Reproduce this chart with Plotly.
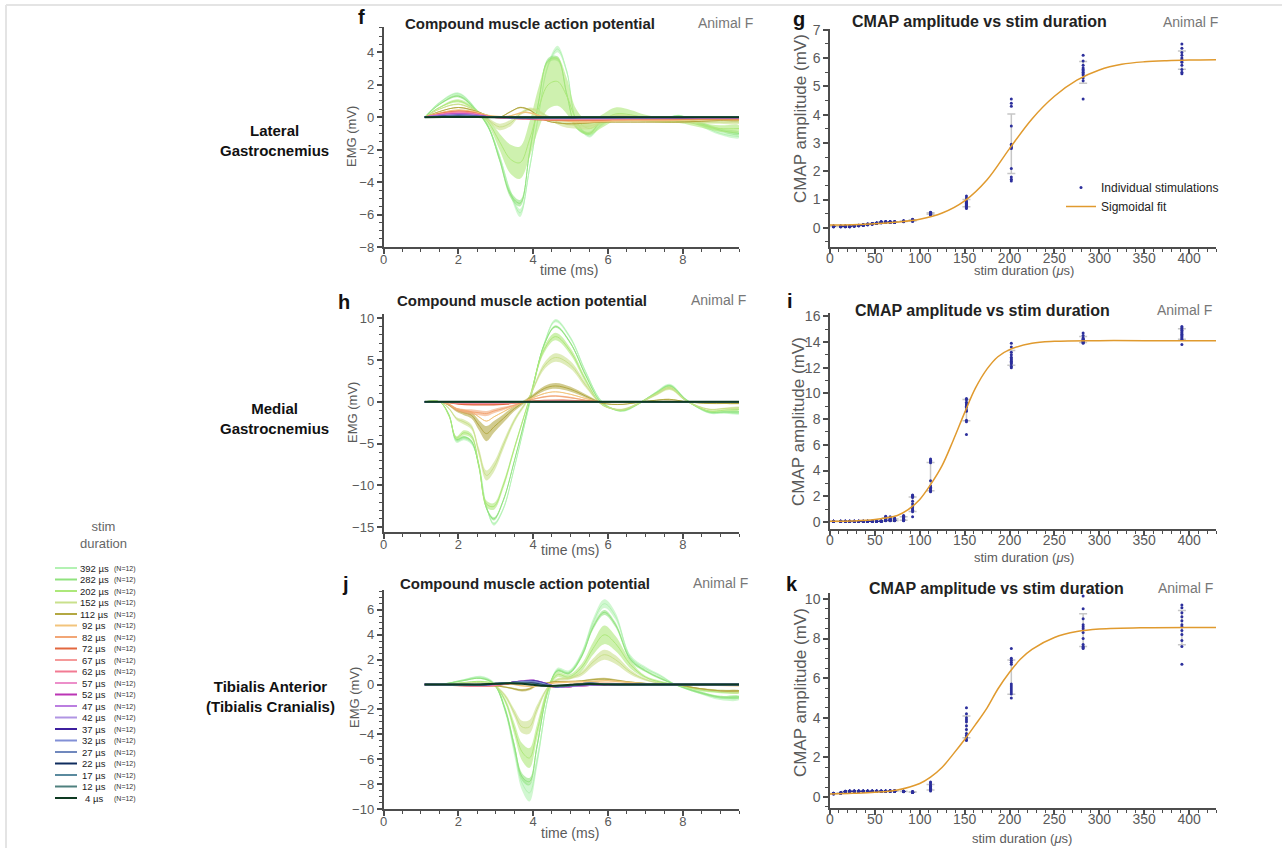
import numpy as np
import plotly.graph_objects as go

FONT = "Liberation Sans, Arial, Helvetica, sans-serif"
W, H = 1282, 848

# ---------------- data ----------------
DURATIONS = [392, 282, 202, 152, 112, 92, 82, 72, 67, 62, 57, 52, 47, 42, 37, 32, 27, 22, 17, 12, 4]
N_STIM = [12] * 21
COLORS = ['#b3f2b3', '#90e27e', '#ade87a', '#c9e08c', '#b3a842', '#f2c47c', '#f2a676',
          '#e2673f', '#f59a9a', '#f27a93', '#ec8fca', '#bb35b5', '#bb7ee0', '#b095e3',
          '#3d1f9e', '#8290d6', '#7088bd', '#0f2c5e', '#5a8a9e', '#4f807e', '#0e3a22']

# Lateral gastrocnemius EMG (mean, sd) for recruited durations
LG_T = [1.1, 1.5, 2.0, 2.5, 2.8, 3.1, 3.4, 3.65, 3.9, 4.15, 4.4, 4.65, 4.9, 5.15, 5.5, 5.8, 6.2, 6.6, 7.0, 7.5, 7.9, 8.5, 9.0, 9.5]
LG_MEAN = {
    392: [0, 0.9, 1.45, 0.4, -0.6, -2.4, -4.7, -5.9, -3.2, 0.2, 3.2, 4.2, 2.8, -0.2, -1.15, -0.5, 0.0, -0.1, -0.2, -0.1, 0.1, -0.5, -1.0, -1.2],
    282: [0, 0.8, 1.3, 0.35, -0.6, -2.6, -4.8, -5.3, -2.2, 1.0, 3.5, 3.6, 1.4, -0.6, -1.0, -0.3, 0.0, -0.1, -0.2, -0.1, 0.05, -0.4, -0.8, -1.0],
    202: [0, 0.6, 1.0, 0.35, -0.3, -1.5, -2.6, -2.8, -1.4, 0.6, 2.0, 2.2, 1.3, -0.1, -0.7, -0.3, 0.2, 0.15, -0.05, -0.2, -0.2, -0.5, -0.7, -0.7],
    152: [0, 0.5, 0.8, 0.35, -0.15, -0.6, -0.35, 0.2, 0.5, 0.35, 0.0, -0.3, -0.45, -0.5, -0.55, -0.3, 0.05, 0.05, -0.1, -0.2, -0.25, -0.3, -0.3, -0.3],
    112: [0, 0.35, 0.6, 0.35, 0.1, 0.0, 0.35, 0.6, 0.45, 0.05, -0.25, -0.35, -0.4, -0.4, -0.35, -0.3, -0.3, -0.3, -0.3, -0.3, -0.3, -0.25, -0.2, -0.2],
}
LG_SD = {
    392: [0, 0.05, 0.08, 0.08, 0.1, 0.15, 0.2, 0.25, 0.2, 0.15, 0.15, 0.2, 0.15, 0.1, 0.1, 0.1, 0.1, 0.05, 0.05, 0.05, 0.05, 0.1, 0.1, 0.1],
    282: [0, 0.05, 0.08, 0.08, 0.1, 0.15, 0.2, 0.2, 0.2, 0.15, 0.15, 0.15, 0.15, 0.1, 0.1, 0.1, 0.05, 0.05, 0.05, 0.05, 0.05, 0.1, 0.1, 0.1],
    202: [0, 0.05, 0.1, 0.1, 0.2, 0.5, 0.9, 1.0, 1.1, 1.3, 1.5, 1.5, 1.1, 0.6, 0.4, 0.4, 0.4, 0.3, 0.2, 0.15, 0.15, 0.15, 0.2, 0.2],
    152: [0, 0.03, 0.05, 0.05, 0.1, 0.2, 0.2, 0.1, 0.1, 0.1, 0.1, 0.15, 0.2, 0.2, 0.2, 0.15, 0.15, 0.1, 0.1, 0.1, 0.1, 0.1, 0.1, 0.1],
    112: [0, 0.02, 0.03, 0.03, 0.03, 0.03, 0.04, 0.05, 0.05, 0.04, 0.03, 0.03, 0.03, 0.03, 0.03, 0.03, 0.03, 0.03, 0.03, 0.03, 0.03, 0.03, 0.03, 0.03],
}
LG_T_SMALL = [1.1, 1.6, 2.0, 2.4, 2.8, 3.3, 3.8, 4.3, 4.8, 5.3, 5.8, 6.5, 7.5, 8.5, 9.5]
LG_SMALL = {
    92: [0, 0.3, 0.45, 0.35, 0.1, 0.05, 0.3, 0.0, -0.2, -0.3, -0.25, -0.2, -0.2, -0.15, -0.15],
    82: [0, 0.28, 0.4, 0.3, 0.05, -0.05, 0.0, -0.15, -0.2, -0.2, -0.2, -0.15, -0.15, -0.1, -0.1],
    72: [0, 0.25, 0.35, 0.27, 0.05, -0.05, -0.1, -0.15, -0.15, -0.15, -0.15, -0.1, -0.1, -0.1, -0.1],
    67: [0, 0.22, 0.32, 0.24, 0.05, -0.05, -0.1, -0.12, -0.12, -0.12, -0.12, -0.1, -0.08, -0.06, -0.05],
    62: [0, 0.2, 0.3, 0.22, 0.04, -0.04, -0.1, -0.1, -0.1, -0.1, -0.1, -0.08, -0.06, -0.05, -0.05],
    57: [0, 0.17, 0.25, 0.18, 0.03, -0.03, -0.08, -0.08, -0.08, -0.08, -0.08, -0.06, -0.05, -0.04, -0.04],
    52: [0, 0.15, 0.22, 0.16, 0.03, -0.03, -0.07, -0.07, -0.07, -0.07, -0.06, -0.05, -0.04, -0.03, -0.03],
    47: [0, 0.12, 0.18, 0.13, 0.02, -0.02, -0.06, -0.06, -0.06, -0.05, -0.05, -0.04, -0.03, -0.02, -0.02],
    42: [0, 0.1, 0.15, 0.11, 0.02, -0.02, -0.05, -0.05, -0.05, -0.04, -0.04, -0.03, -0.02, -0.02, -0.02],
    37: [0, 0.08, 0.12, 0.09, 0.02, -0.01, -0.04, -0.04, -0.04, -0.03, -0.03, -0.02, -0.02, -0.01, -0.01],
    32: [0, 0.06, 0.1, 0.07, 0.01, -0.01, -0.03, -0.03, -0.03, -0.02, -0.02, -0.02, -0.01, -0.01, -0.01],
    27: [0, 0.05, 0.08, 0.06, 0.01, -0.01, -0.02, -0.02, -0.02, -0.02, -0.02, -0.01, -0.01, -0.01, -0.01],
    22: [0, 0.04, 0.06, 0.04, 0.01, 0, -0.02, -0.02, -0.02, -0.01, -0.01, -0.01, 0, 0, 0],
    17: [0, 0.03, 0.05, 0.03, 0.01, 0, -0.01, -0.01, -0.01, -0.01, -0.01, 0, 0, 0, 0],
    12: [0, 0.02, 0.03, 0.02, 0, 0, -0.01, -0.01, -0.01, 0, 0, 0, 0, 0, 0],
    4: [0, 0.01, 0.02, 0.01, 0, 0, 0, 0, 0, 0, 0, 0, 0, 0, 0],
}

# Medial gastrocnemius EMG
MG_T = [1.1, 1.5, 1.75, 1.95, 2.15, 2.35, 2.55, 2.75, 2.95, 3.2, 3.5, 3.9, 4.3, 4.6, 5.0, 5.4, 5.8, 6.1, 6.4, 6.9, 7.3, 7.65, 8.1, 8.7, 9.1, 9.5]
MG_MEAN = {
    392: [0, 0, -1.5, -4.7, -4.4, -4.9, -7.5, -12.5, -14.6, -12.8, -7.8, -0.3, 7.0, 9.7, 7.6, 3.6, 0.2, -0.8, -1.1, 0.0, 1.2, 2.0, 0.2, -1.3, -1.3, -1.4],
    282: [0, 0, -1.6, -4.5, -4.2, -4.7, -7.8, -12.7, -14.0, -11.8, -7.0, 0.0, 6.9, 9.0, 7.0, 3.2, 0.0, -0.8, -1.0, 0.0, 1.1, 1.9, 0.2, -1.2, -1.2, -1.2],
    202: [0, 0, -1.7, -4.3, -3.7, -4.1, -7.6, -12.2, -12.5, -10.0, -5.5, 0.4, 6.3, 7.8, 6.0, 2.6, -0.2, -0.8, -1.0, 0.0, 1.0, 1.7, 0.1, -1.1, -1.0, -0.9],
    152: [0, 0, -0.8, -2.0, -2.4, -3.0, -6.0, -8.8, -7.8, -5.2, -2.2, 0.6, 4.3, 5.3, 4.4, 2.0, -0.2, -0.8, -0.9, 0.0, 0.9, 1.6, 0.1, -0.9, -0.8, -0.7],
    112: [0, 0, -0.4, -1.0, -1.3, -1.6, -2.8, -3.8, -3.0, -2.0, -0.8, 0.4, 1.6, 1.9, 1.5, 0.7, -0.1, -0.3, -0.3, 0.0, 0.2, 0.3, 0.0, -0.2, -0.2, -0.2],
    92: [0, 0, -0.3, -0.8, -1.0, -1.2, -1.8, -2.3, -1.8, -1.2, -0.5, 0.3, 1.0, 1.2, 0.9, 0.4, 0.0, -0.1, -0.1, 0.0, 0.05, 0.1, 0.0, -0.05, -0.05, -0.05],
    82: [0, 0, -0.3, -0.9, -1.1, -1.2, -1.3, -1.4, -1.1, -0.8, -0.4, 0.2, 0.6, 0.7, 0.5, 0.2, 0, 0, 0, 0, 0, 0, 0, 0, 0, 0],
}
MG_SD = {
    392: [0, 0, 0.1, 0.2, 0.2, 0.2, 0.2, 0.2, 0.2, 0.2, 0.2, 0.2, 0.2, 0.2, 0.2, 0.2, 0.1, 0.1, 0.1, 0.1, 0.1, 0.15, 0.1, 0.1, 0.1, 0.1],
    282: [0, 0, 0.1, 0.15, 0.15, 0.15, 0.15, 0.2, 0.2, 0.2, 0.15, 0.15, 0.15, 0.15, 0.15, 0.15, 0.1, 0.1, 0.1, 0.1, 0.1, 0.1, 0.1, 0.1, 0.1, 0.1],
    202: [0, 0, 0.1, 0.2, 0.3, 0.3, 0.3, 0.4, 0.4, 0.4, 0.3, 0.2, 0.4, 0.45, 0.4, 0.3, 0.1, 0.1, 0.1, 0.1, 0.15, 0.2, 0.1, 0.1, 0.1, 0.1],
    152: [0, 0, 0.1, 0.2, 0.3, 0.3, 0.5, 0.6, 0.6, 0.5, 0.3, 0.2, 0.4, 0.5, 0.45, 0.3, 0.1, 0.1, 0.1, 0.1, 0.15, 0.2, 0.1, 0.1, 0.1, 0.1],
    112: [0, 0, 0.1, 0.2, 0.3, 0.4, 0.6, 0.9, 0.7, 0.5, 0.3, 0.2, 0.3, 0.35, 0.3, 0.2, 0.1, 0.05, 0.05, 0.05, 0.05, 0.05, 0.05, 0.05, 0.05, 0.05],
    92: [0, 0, 0.05, 0.05, 0.05, 0.05, 0.05, 0.05, 0.05, 0.05, 0.05, 0.05, 0.05, 0.05, 0.05, 0.05, 0.03, 0.03, 0.03, 0.03, 0.03, 0.03, 0.03, 0.03, 0.03, 0.03],
    82: [0, 0, 0.1, 0.2, 0.25, 0.3, 0.3, 0.3, 0.25, 0.2, 0.1, 0.05, 0.1, 0.1, 0.1, 0.05, 0, 0, 0, 0, 0, 0, 0, 0, 0, 0],
}
MG_T_SMALL = [1.1, 1.6, 2.0, 2.4, 2.8, 3.3, 3.8, 4.3, 4.8, 5.3, 5.8, 6.5, 7.5, 8.5, 9.5]
MG_SMALL = {
    72: [0, 0, -0.25, -0.35, -0.35, -0.25, 0.0, 0.15, 0.2, 0.1, 0, 0, 0, 0, 0],
    67: [0, 0, -0.15, -0.2, -0.2, -0.15, 0, 0.1, 0.1, 0.05, 0, 0, 0, 0, 0],
    62: [0, 0, -0.1, -0.12, -0.12, -0.1, 0, 0.05, 0.06, 0.03, 0, 0, 0, 0, 0],
    57: [0, 0, -0.06, -0.08, -0.08, -0.06, 0, 0.03, 0.04, 0.02, 0, 0, 0, 0, 0],
    52: [0, 0, -0.04, -0.05, -0.05, -0.04, 0, 0.02, 0.02, 0.01, 0, 0, 0, 0, 0],
    47: [0, 0, -0.03, -0.04, -0.04, -0.03, 0, 0.01, 0.01, 0.01, 0, 0, 0, 0, 0],
    42: [0, 0, -0.02, -0.03, -0.03, -0.02, 0, 0.01, 0.01, 0, 0, 0, 0, 0, 0],
    37: [0, 0, -0.02, -0.02, -0.02, -0.02, 0, 0, 0, 0, 0, 0, 0, 0, 0],
    32: [0, 0, -0.01, -0.02, -0.02, -0.01, 0, 0, 0, 0, 0, 0, 0, 0, 0],
    27: [0, 0, -0.01, -0.01, -0.01, -0.01, 0, 0, 0, 0, 0, 0, 0, 0, 0],
    22: [0, 0, 0, -0.01, -0.01, 0, 0, 0, 0, 0, 0, 0, 0, 0, 0],
    17: [0, 0, 0, 0, 0, 0, 0, 0, 0, 0, 0, 0, 0, 0, 0],
    12: [0, 0, 0, 0, 0, 0, 0, 0, 0, 0, 0, 0, 0, 0, 0],
    4: [0, 0, 0, 0, 0, 0, 0, 0, 0, 0, 0, 0, 0, 0, 0],
}

# Tibialis anterior EMG
TA_T = [1.1, 1.6, 2.1, 2.6, 2.95, 3.25, 3.5, 3.7, 3.9, 4.1, 4.4, 4.65, 4.95, 5.3, 5.6, 5.9, 6.2, 6.6, 7.0, 7.4, 7.8, 8.4, 9.0, 9.5]
TA_MEAN = {
    392: [0, 0.05, 0.35, 0.6, 0.1, -2.0, -5.3, -7.9, -8.7, -6.2, -1.0, 1.2, 1.0, 2.5, 5.0, 6.5, 5.5, 2.2, 1.3, 0.7, 0.0, -0.6, -1.1, -1.1],
    282: [0, 0.05, 0.3, 0.5, 0.05, -2.0, -5.0, -7.4, -7.8, -5.0, -0.4, 1.1, 0.9, 2.3, 4.6, 5.8, 4.8, 2.0, 1.1, 0.5, 0.0, -0.6, -1.0, -1.0],
    202: [0, 0.02, 0.15, 0.25, 0.0, -1.3, -3.6, -5.4, -5.9, -3.8, -0.4, 0.8, 0.6, 1.4, 2.9, 4.0, 3.3, 1.6, 0.6, 0.2, 0.0, -0.4, -0.6, -0.6],
    152: [0, 0.02, 0.1, 0.15, -0.05, -0.9, -2.3, -3.4, -3.4, -2.0, -0.2, 0.4, 0.5, 0.9, 1.8, 2.4, 2.0, 1.0, 0.4, 0.1, 0.0, -0.3, -0.5, -0.6],
    112: [0, 0, -0.05, -0.05, -0.1, -0.2, -0.35, -0.45, -0.35, -0.05, 0.15, 0.25, 0.25, 0.3, 0.4, 0.45, 0.35, 0.2, 0.1, 0.0, 0.0, -0.3, -0.5, -0.5],
}
TA_SD = {
    392: [0, 0.02, 0.05, 0.1, 0.1, 0.3, 0.5, 0.6, 0.7, 0.5, 0.2, 0.15, 0.15, 0.2, 0.3, 0.35, 0.3, 0.2, 0.15, 0.1, 0.05, 0.1, 0.15, 0.15],
    282: [0, 0.02, 0.05, 0.05, 0.1, 0.2, 0.3, 0.3, 0.3, 0.3, 0.2, 0.1, 0.1, 0.15, 0.2, 0.2, 0.2, 0.15, 0.1, 0.1, 0.05, 0.1, 0.1, 0.1],
    202: [0, 0, 0.02, 0.05, 0.1, 0.2, 0.5, 0.7, 0.8, 0.6, 0.3, 0.2, 0.2, 0.3, 0.5, 0.75, 0.6, 0.3, 0.1, 0.1, 0.05, 0.1, 0.1, 0.1],
    152: [0, 0, 0.02, 0.03, 0.05, 0.15, 0.3, 0.5, 0.55, 0.35, 0.1, 0.1, 0.1, 0.2, 0.3, 0.4, 0.35, 0.2, 0.1, 0.05, 0.05, 0.05, 0.1, 0.1],
    112: [0, 0, 0, 0.02, 0.02, 0.05, 0.08, 0.1, 0.1, 0.08, 0.05, 0.05, 0.05, 0.05, 0.08, 0.1, 0.08, 0.05, 0.03, 0.03, 0.03, 0.05, 0.05, 0.05],
}
TA_T_SMALL = [1.1, 1.6, 2.1, 2.6, 3.0, 3.4, 3.7, 4.0, 4.3, 4.6, 5.0, 5.5, 6.0, 7.0, 8.0, 9.5]
TA_SMALL = {
    92: [0, -0.02, -0.05, -0.08, -0.05, 0.05, -0.1, -0.15, 0.0, 0.15, 0.2, 0.25, 0.3, 0.05, 0, -0.1],
    82: [0, -0.03, -0.06, -0.1, -0.05, 0.08, 0.1, 0.1, -0.05, -0.1, 0.0, 0.1, 0.1, 0, 0, 0],
    72: [0, -0.03, -0.08, -0.12, -0.08, 0.1, 0.15, 0.2, -0.1, -0.2, -0.15, 0.0, 0.05, 0, 0, 0],
    67: [0, -0.03, -0.08, -0.12, -0.05, 0.12, 0.2, 0.25, -0.05, -0.2, -0.15, -0.05, 0, 0, 0, 0],
    62: [0, -0.02, -0.07, -0.1, -0.03, 0.15, 0.22, 0.3, 0.0, -0.2, -0.15, -0.05, 0, 0, 0, 0],
    57: [0, -0.02, -0.06, -0.08, 0.0, 0.15, 0.25, 0.32, 0.05, -0.2, -0.15, -0.05, 0, 0, 0, 0],
    52: [0, -0.01, -0.05, -0.06, 0.02, 0.15, 0.28, 0.35, 0.1, -0.2, -0.15, -0.05, 0, 0, 0, 0],
    47: [0, -0.01, -0.04, -0.05, 0.03, 0.15, 0.28, 0.35, 0.12, -0.18, -0.15, -0.05, 0, 0, 0, 0],
    42: [0, -0.01, -0.03, -0.04, 0.04, 0.15, 0.27, 0.33, 0.12, -0.16, -0.12, -0.03, 0, 0, 0, 0],
    37: [0, 0, -0.02, -0.03, 0.05, 0.15, 0.25, 0.3, 0.1, -0.15, -0.1, 0.0, 0, 0, 0, 0],
    32: [0, 0, -0.02, -0.02, 0.06, 0.15, 0.22, 0.25, 0.05, -0.15, -0.08, 0.05, 0.02, 0, 0, 0],
    27: [0, 0, -0.01, -0.01, 0.07, 0.15, 0.2, 0.2, 0.0, -0.15, -0.05, 0.08, 0.03, 0, 0, 0],
    22: [0, 0, 0, 0, 0.08, 0.15, 0.15, 0.1, -0.05, -0.15, -0.05, 0.1, 0.03, 0, 0, 0],
    17: [0, 0, 0, 0.01, 0.08, 0.14, 0.12, 0.05, -0.08, -0.15, -0.05, 0.1, 0.03, 0, 0, 0],
    12: [0, 0, 0, 0.01, 0.08, 0.13, 0.1, 0.0, -0.1, -0.12, -0.03, 0.08, 0.02, 0, 0, 0],
    4: [0, 0, 0, 0.01, 0.06, 0.1, 0.06, -0.02, -0.1, -0.1, -0.02, 0.05, 0.01, 0, 0, 0],
}

# CMAP amplitudes (mV), 12 stimulations per duration
LG_CMAP = {
    4: [0.04, 0.05, 0.05, 0.06, 0.05, 0.04, 0.05, 0.06, 0.05, 0.05, 0.04, 0.06],
    12: [0.05, 0.04, 0.06, 0.05, 0.05, 0.06, 0.04, 0.05, 0.05, 0.06, 0.05, 0.04],
    17: [0.05, 0.06, 0.05, 0.04, 0.05, 0.05, 0.06, 0.05, 0.04, 0.05, 0.06, 0.05],
    22: [0.04, 0.05, 0.06, 0.05, 0.05, 0.04, 0.06, 0.05, 0.05, 0.06, 0.04, 0.05],
    27: [0.06, 0.07, 0.08, 0.07, 0.06, 0.07, 0.08, 0.07, 0.06, 0.07, 0.08, 0.07],
    32: [0.07, 0.08, 0.09, 0.08, 0.07, 0.08, 0.09, 0.08, 0.07, 0.08, 0.09, 0.08],
    37: [0.09, 0.1, 0.11, 0.1, 0.09, 0.1, 0.11, 0.1, 0.09, 0.1, 0.11, 0.1],
    42: [0.11, 0.12, 0.13, 0.12, 0.11, 0.12, 0.13, 0.12, 0.11, 0.12, 0.13, 0.12],
    47: [0.13, 0.14, 0.15, 0.14, 0.13, 0.14, 0.15, 0.14, 0.13, 0.14, 0.15, 0.14],
    52: [0.15, 0.16, 0.17, 0.16, 0.15, 0.16, 0.17, 0.16, 0.15, 0.16, 0.17, 0.16],
    57: [0.18, 0.19, 0.2, 0.21, 0.19, 0.18, 0.2, 0.19, 0.21, 0.2, 0.19, 0.18],
    62: [0.19, 0.2, 0.21, 0.2, 0.19, 0.2, 0.21, 0.2, 0.19, 0.2, 0.21, 0.2],
    67: [0.19, 0.2, 0.21, 0.2, 0.19, 0.2, 0.21, 0.2, 0.19, 0.2, 0.21, 0.2],
    72: [0.19, 0.2, 0.21, 0.2, 0.19, 0.2, 0.21, 0.2, 0.19, 0.2, 0.21, 0.2],
    82: [0.21, 0.22, 0.23, 0.24, 0.22, 0.23, 0.24, 0.23, 0.22, 0.23, 0.24, 0.25],
    92: [0.23, 0.24, 0.25, 0.26, 0.27, 0.28, 0.24, 0.26, 0.27, 0.29, 0.3, 0.25],
    112: [0.45, 0.47, 0.48, 0.49, 0.5, 0.5, 0.51, 0.52, 0.53, 0.54, 0.55, 0.5],
    152: [0.68, 0.72, 0.75, 0.8, 0.82, 0.85, 0.87, 0.9, 0.92, 0.95, 1.05, 1.12],
    202: [1.65, 1.72, 1.8, 2.1, 2.8, 2.85, 2.9, 2.95, 3.6, 4.3, 4.4, 4.55],
    282: [4.55, 5.2, 5.3, 5.4, 5.45, 5.5, 5.55, 5.6, 5.65, 5.75, 5.9, 6.1],
    392: [5.45, 5.5, 5.6, 5.75, 5.85, 5.9, 5.95, 6.0, 6.1, 6.2, 6.35, 6.5],
}
MG_CMAP = {
    4: [0.04, 0.05, 0.05, 0.06, 0.05, 0.04, 0.05, 0.06, 0.05, 0.05, 0.04, 0.06],
    12: [0.05, 0.04, 0.06, 0.05, 0.05, 0.06, 0.04, 0.05, 0.05, 0.06, 0.05, 0.04],
    17: [0.05, 0.06, 0.05, 0.04, 0.05, 0.05, 0.06, 0.05, 0.04, 0.05, 0.06, 0.05],
    22: [0.04, 0.05, 0.06, 0.05, 0.05, 0.04, 0.06, 0.05, 0.05, 0.06, 0.04, 0.05],
    27: [0.05, 0.05, 0.06, 0.04, 0.05, 0.06, 0.05, 0.05, 0.04, 0.06, 0.05, 0.05],
    32: [0.05, 0.06, 0.05, 0.05, 0.04, 0.06, 0.05, 0.05, 0.06, 0.04, 0.05, 0.05],
    37: [0.04, 0.05, 0.06, 0.05, 0.05, 0.04, 0.06, 0.05, 0.05, 0.06, 0.04, 0.05],
    42: [0.05, 0.05, 0.06, 0.04, 0.05, 0.06, 0.05, 0.05, 0.04, 0.06, 0.05, 0.05],
    47: [0.05, 0.06, 0.05, 0.05, 0.04, 0.06, 0.05, 0.05, 0.06, 0.04, 0.05, 0.05],
    52: [0.05, 0.06, 0.06, 0.05, 0.05, 0.06, 0.05, 0.06, 0.05, 0.05, 0.06, 0.05],
    57: [0.05, 0.06, 0.07, 0.08, 0.06, 0.05, 0.07, 0.06, 0.08, 0.05, 0.06, 0.07],
    62: [0.1, 0.12, 0.14, 0.15, 0.18, 0.2, 0.12, 0.15, 0.3, 0.4, 0.45, 0.13],
    67: [0.1, 0.12, 0.13, 0.15, 0.17, 0.2, 0.14, 0.16, 0.25, 0.35, 0.4, 0.12],
    72: [0.1, 0.11, 0.12, 0.13, 0.15, 0.17, 0.12, 0.14, 0.2, 0.25, 0.3, 0.11],
    82: [0.1, 0.12, 0.15, 0.18, 0.2, 0.25, 0.3, 0.35, 0.4, 0.45, 0.5, 0.15],
    92: [0.4, 0.8, 0.9, 1.0, 1.1, 1.2, 1.4, 1.6, 1.9, 2.0, 2.05, 2.1],
    112: [2.35, 2.4, 2.5, 2.6, 2.7, 2.8, 3.2, 4.6, 4.7, 4.75, 4.8, 4.9],
    152: [6.8, 7.8, 7.9, 8.6, 8.7, 8.9, 9.0, 9.1, 9.2, 9.3, 9.5, 9.6],
    202: [12.0, 12.1, 12.3, 12.4, 12.5, 12.6, 12.7, 12.8, 13.0, 13.2, 13.6, 13.9],
    282: [13.9, 13.95, 14.0, 14.05, 14.1, 14.1, 14.15, 14.2, 14.25, 14.3, 14.5, 14.7],
    392: [13.8, 14.2, 14.3, 14.4, 14.5, 14.6, 14.7, 14.8, 14.9, 15.0, 15.1, 15.2],
}
TA_CMAP = {
    4: [0.15, 0.16, 0.17, 0.18, 0.17, 0.16, 0.17, 0.18, 0.17, 0.16, 0.17, 0.18],
    12: [0.18, 0.19, 0.2, 0.21, 0.2, 0.19, 0.2, 0.21, 0.2, 0.19, 0.2, 0.21],
    17: [0.25, 0.26, 0.27, 0.28, 0.27, 0.26, 0.27, 0.28, 0.27, 0.26, 0.27, 0.28],
    22: [0.27, 0.28, 0.29, 0.3, 0.29, 0.28, 0.29, 0.3, 0.29, 0.28, 0.29, 0.3],
    27: [0.27, 0.28, 0.29, 0.3, 0.28, 0.29, 0.3, 0.29, 0.28, 0.29, 0.3, 0.28],
    32: [0.28, 0.29, 0.3, 0.29, 0.28, 0.29, 0.3, 0.29, 0.28, 0.29, 0.3, 0.29],
    37: [0.27, 0.28, 0.29, 0.3, 0.29, 0.28, 0.29, 0.3, 0.29, 0.28, 0.29, 0.3],
    42: [0.27, 0.28, 0.29, 0.3, 0.28, 0.29, 0.3, 0.29, 0.28, 0.29, 0.3, 0.28],
    47: [0.28, 0.29, 0.3, 0.29, 0.28, 0.29, 0.3, 0.29, 0.28, 0.29, 0.3, 0.29],
    52: [0.27, 0.28, 0.29, 0.3, 0.29, 0.28, 0.29, 0.3, 0.29, 0.28, 0.29, 0.3],
    57: [0.27, 0.28, 0.29, 0.3, 0.28, 0.29, 0.3, 0.29, 0.28, 0.29, 0.3, 0.28],
    62: [0.28, 0.29, 0.3, 0.29, 0.28, 0.29, 0.3, 0.29, 0.28, 0.29, 0.3, 0.29],
    67: [0.28, 0.29, 0.3, 0.31, 0.29, 0.3, 0.31, 0.3, 0.29, 0.3, 0.31, 0.3],
    72: [0.28, 0.29, 0.3, 0.31, 0.29, 0.3, 0.31, 0.3, 0.29, 0.3, 0.31, 0.3],
    82: [0.26, 0.27, 0.28, 0.29, 0.28, 0.27, 0.28, 0.29, 0.28, 0.27, 0.28, 0.29],
    92: [0.23, 0.24, 0.25, 0.26, 0.25, 0.24, 0.25, 0.26, 0.25, 0.24, 0.25, 0.26],
    112: [0.3, 0.35, 0.38, 0.4, 0.42, 0.45, 0.5, 0.52, 0.55, 0.6, 0.7, 0.75],
    152: [2.85, 2.9, 3.0, 3.1, 3.2, 3.4, 3.6, 3.8, 3.9, 4.0, 4.2, 4.5],
    202: [5.0, 5.2, 5.3, 5.4, 5.5, 5.6, 5.7, 6.7, 6.8, 6.9, 7.0, 7.5],
    282: [7.5, 7.55, 7.6, 7.7, 8.0, 8.3, 8.5, 8.6, 8.7, 9.0, 9.5, 10.15],
    392: [6.7, 7.6, 7.9, 8.2, 8.4, 8.6, 8.7, 8.9, 9.1, 9.3, 9.55, 9.7],
}

# Sigmoidal fit curves
LG_FIT_X = [0, 25, 50, 75, 100, 125, 150, 175, 200, 225, 250, 275, 300, 325, 350, 375, 400, 430]
LG_FIT_Y = [0.1, 0.11, 0.14, 0.2, 0.3, 0.52, 0.95, 1.7, 2.8, 3.85, 4.65, 5.22, 5.58, 5.78, 5.87, 5.91, 5.93, 5.94]
MG_FIT_X = [0, 25, 50, 75, 87, 100, 112, 125, 137, 150, 162, 175, 187, 200, 225, 250, 300, 350, 430]
MG_FIT_Y = [0.05, 0.07, 0.18, 0.5, 0.95, 1.75, 2.9, 4.4, 6.3, 8.5, 10.4, 11.9, 12.85, 13.4, 13.9, 14.05, 14.1, 14.1, 14.1]
TA_FIT_X = [0, 25, 50, 75, 100, 112, 125, 137, 150, 162, 175, 187, 200, 212, 225, 250, 275, 300, 350, 430]
TA_FIT_Y = [0.15, 0.18, 0.23, 0.35, 0.68, 1.0, 1.5, 2.15, 2.9, 3.65, 4.5, 5.45, 6.3, 6.95, 7.45, 8.05, 8.35, 8.48, 8.55, 8.56]

MUSCLES = ["Lateral<br>Gastrocnemius", "Medial<br>Gastrocnemius", "Tibialis Anterior<br>(Tibialis Cranialis)"]

# ---------------- figure ----------------
COLOR_OF = dict(zip(DURATIONS, COLORS))


def rgba(hexc, a):
    h = hexc.lstrip('#')
    return "rgba(%d,%d,%d,%.2f)" % (int(h[0:2], 16), int(h[2:4], 16), int(h[4:6], 16), a)


def px_x(px):
    return px / W


def px_y(py):
    return 1 - py / H


fig = go.Figure()


def add_emg(t, means, sds, t_small, smalls, xa, ya):
    for d in DURATIONS:
        c = COLOR_OF[d]
        if d in means:
            m = np.array(means[d], dtype=float)
            s = np.array(sds[d], dtype=float)
            up = m + s
            lo = m - s
            tt = list(t)
            fig.add_trace(go.Scatter(x=tt + tt[::-1], y=list(up) + list(lo[::-1]), mode='lines',
                                     fill='toself', fillcolor=rgba(c, 0.6),
                                     line=dict(width=0, shape='spline', color=rgba(c, 0)),
                                     xaxis=xa, yaxis=ya, showlegend=False, hoverinfo='skip'))
            fig.add_trace(go.Scatter(x=tt, y=list(m), mode='lines',
                                     line=dict(color=c, width=1, shape='spline'),
                                     xaxis=xa, yaxis=ya, showlegend=False, name=f"{d} µs"))
        elif d in smalls:
            fig.add_trace(go.Scatter(x=list(t_small), y=smalls[d], mode='lines',
                                     line=dict(color=c, width=2 if d == 4 else 1.5, shape='spline'),
                                     xaxis=xa, yaxis=ya, showlegend=False, name=f"{d} µs"))


def add_cmap(data, fit_x, fit_y, xa, ya, show):
    durs = sorted(data.keys())
    means = [float(np.mean(data[d])) for d in durs]
    sds = [float(np.std(data[d], ddof=1)) for d in durs]
    fig.add_trace(go.Scatter(x=durs, y=means, mode='markers',
                             marker=dict(size=1, color='rgba(0,0,0,0)'),
                             error_y=dict(type='data', array=sds, color='#c6c6c6', thickness=1.5, width=4),
                             xaxis=xa, yaxis=ya, showlegend=False, hoverinfo='skip'))
    xs, ys = [], []
    for d in durs:
        xs += [d] * len(data[d])
        ys += data[d]
    fig.add_trace(go.Scatter(x=xs, y=ys, mode='markers', marker=dict(size=3, color='#2c2f9c'),
                             name='Individual stimulations', legend='legend2', showlegend=show,
                             xaxis=xa, yaxis=ya))
    fig.add_trace(go.Scatter(x=fit_x, y=fit_y, mode='lines',
                             line=dict(color='#e09a2e', width=1.5, shape='spline'),
                             name='Sigmoidal fit', legend='legend2', showlegend=show,
                             xaxis=xa, yaxis=ya))


add_emg(LG_T, LG_MEAN, LG_SD, LG_T_SMALL, LG_SMALL, 'x', 'y')
add_cmap(LG_CMAP, LG_FIT_X, LG_FIT_Y, 'x2', 'y2', True)
add_emg(MG_T, MG_MEAN, MG_SD, MG_T_SMALL, MG_SMALL, 'x3', 'y3')
add_cmap(MG_CMAP, MG_FIT_X, MG_FIT_Y, 'x4', 'y4', False)
add_emg(TA_T, TA_MEAN, TA_SD, TA_T_SMALL, TA_SMALL, 'x5', 'y5')
add_cmap(TA_CMAP, TA_FIT_X, TA_FIT_Y, 'x6', 'y6', False)

AX = '#4d4d4d'


def axis(domain, rng, dtick, minor, anchor, size=13, standoff=0):
    return dict(domain=domain, range=rng, dtick=dtick, tick0=0, anchor=anchor,
                showline=True, linecolor=AX, linewidth=1.5, ticks='outside', ticklen=5,
                tickwidth=1.5, tickcolor=AX, showgrid=False, zeroline=False,
                ticklabelstandoff=standoff,
                tickfont=dict(size=size, color='#5a5a5a', family=FONT),
                minor=dict(ticks='outside', ticklen=3, tickwidth=1, tickcolor=AX, dtick=minor, showgrid=False))


XL = [px_x(383.5), px_x(739)]
XR = [px_x(830), px_x(1216)]
layout = dict(
    xaxis=axis(XL, [0, 9.5], 2, 0.5, 'y', 13, -5),
    yaxis=axis([px_y(247), px_y(27)], [-8, 5.56], 2, 0.5, 'x'),
    xaxis2=axis(XR, [0, 430], 50, 10, 'y2', 14, -8),
    yaxis2=axis([px_y(247), px_y(29)], [-0.68, 7.03], 1, 0.5, 'x2', 14),
    xaxis3=axis(XL, [0, 9.5], 2, 0.5, 'y3', 13, -5),
    yaxis3=axis([px_y(532), px_y(314)], [-15.56, 10.5], 5, 1, 'x3'),
    xaxis4=axis(XR, [0, 430], 50, 10, 'y4', 14, -8),
    yaxis4=axis([px_y(529), px_y(313)], [-0.55, 16.25], 2, 1, 'x4', 14),
    xaxis5=axis(XL, [0, 9.5], 2, 0.5, 'y5', 13, -5),
    yaxis5=axis([px_y(809), px_y(590)], [-10, 7.6], 2, 0.5, 'x5'),
    xaxis6=axis(XR, [0, 430], 50, 10, 'y6', 14, -8),
    yaxis6=axis([px_y(808), px_y(593)], [-0.56, 10.3], 2, 0.5, 'x6', 14),
)

ann = []
shapes = []


def text(t, x, y, size, color='#222', bold=False, angle=0, xanchor='center'):
    ann.append(dict(text=(f"<b>{t}</b>" if bold else t), x=px_x(x), y=px_y(y), xref='paper', yref='paper',
                    xanchor=xanchor, yanchor='middle', showarrow=False, textangle=angle,
                    font=dict(size=size, color=color, family=FONT)))


# panel letters
for L, (x, y) in zip("fghijk", [(361, 17), (799, 19), (344, 302), (790, 301), (345, 584), (792, 584)]):
    text(L, x, y, 20, '#111', True)
# titles
for (x, y) in [(530, 23), (522, 300), (525, 583)]:
    text("Compound muscle action potential", x, y, 15, '#222', True)
for (x, y) in [(979, 22), (982, 310), (996, 588)]:
    text("CMAP amplitude vs stim duration", x, y, 16, '#222', True)
for (x, y) in [(725, 23), (1190, 22), (718, 300), (1184, 310), (720, 583), (1185, 588)]:
    text("Animal F", x, y, 14, '#777')
# axis titles
for (x, y) in [(569, 270), (570, 550), (570, 833)]:
    text("time (ms)", x, y, 14, '#5a5a5a')
for (x, y) in [(351, 137), (352, 413), (354, 697)]:
    text("EMG (mV)", x, y, 13, '#5a5a5a', angle=-90)
for (x, y) in [(1024, 270), (1024, 557), (1022, 838)]:
    text("stim duration (<i>μ</i>s)", x, y, 13, '#5a5a5a')
for (x, y) in [(800, 119), (798, 421), (800, 693)]:
    text("CMAP amplitude (mV)", x, y, 17, '#5a5a5a', angle=-90)
# row labels
for lab, (x, y) in zip(MUSCLES, [(274, 140), (274, 418), (270, 696)]):
    text(lab, x, y, 15, '#111', True)

# stim duration key
text("stim<br>duration", 103, 535, 13, '#666')
for i, (d, c, n) in enumerate(zip(DURATIONS, COLORS, N_STIM)):
    yy = 568 + i * 11.5
    shapes.append(dict(type='line', xref='paper', yref='paper', x0=px_x(55), x1=px_x(77),
                       y0=px_y(yy), y1=px_y(yy), line=dict(color=c, width=2)))
    text(f"{d} µs", 94, yy, 9.5, '#222')
    text(f"(N={n})", 112, yy + 0.5, 7, '#333', xanchor='left')

# page border
shapes.append(dict(type='line', xref='paper', yref='paper', x0=px_x(6), x1=1, y0=px_y(5), y1=px_y(5),
                   line=dict(color='#e4e4e4', width=2)))
shapes.append(dict(type='line', xref='paper', yref='paper', x0=px_x(6), x1=px_x(6), y0=px_y(5), y1=0,
                   line=dict(color='#e4e4e4', width=2)))

fig.update_layout(
    template='none',
    width=W, height=H,
    margin=dict(l=0, r=0, t=0, b=0, pad=0),
    paper_bgcolor='white', plot_bgcolor='white',
    font=dict(family=FONT, color='#333'),
    showlegend=True,
    legend2=dict(x=px_x(1061), y=px_y(173), xanchor='left', yanchor='top',
                 bgcolor='rgba(0,0,0,0)', font=dict(size=12, color='#222', family=FONT)),
    annotations=ann, shapes=shapes,
    **layout,
)

fig.write_html("out.html", config={'displayModeBar': False},
               post_script="document.body.style.margin='0px';")
